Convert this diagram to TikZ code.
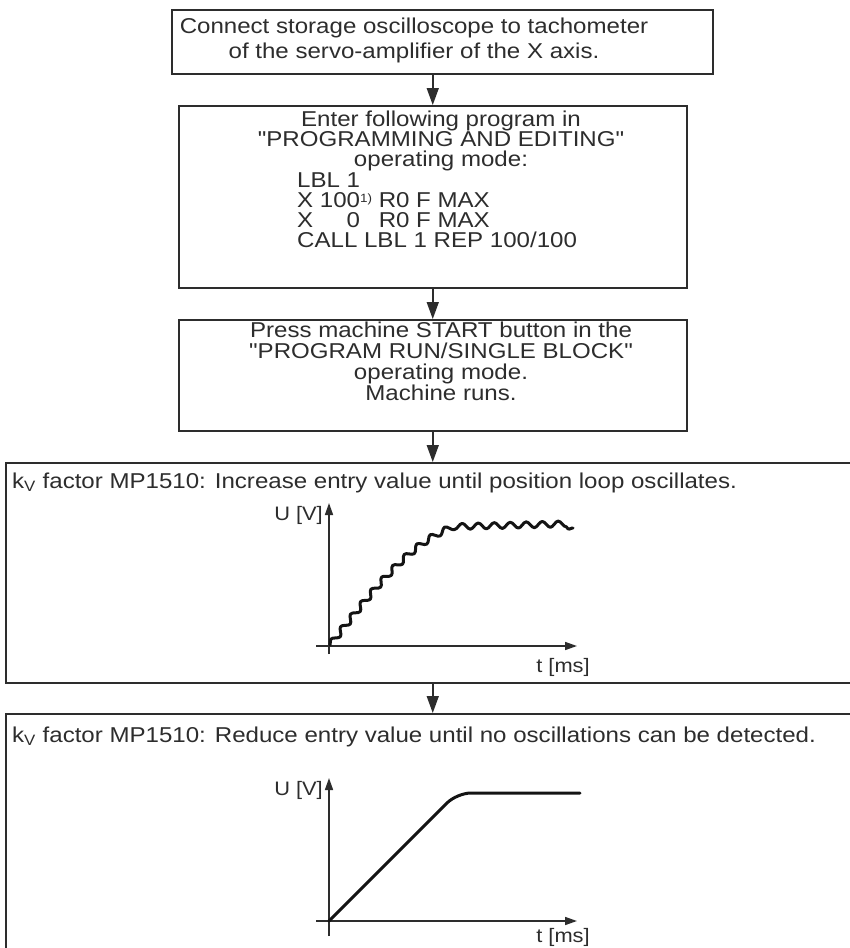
\documentclass[tikz,border=0pt]{standalone}
\usepackage{fontspec}
\setmainfont{Liberation Sans}[FakeStretch=1.12, Ligatures=TeXOff]
\usetikzlibrary{arrows.meta,decorations.pathmorphing}
\definecolor{ink}{RGB}{45,45,45}
\definecolor{curvecol}{RGB}{20,20,20}
\newcommand{\fnmark}{\raisebox{5pt}{\fontsize{12}{12}\selectfont 1)}}
\begin{document}
\begin{tikzpicture}[x=1pt,y=-1pt,
  box/.style={draw=ink, line width=1.5pt, inner sep=0pt, anchor=north west},
  txt/.style={inner sep=0pt, text=ink, font=\fontsize{21.5}{24}\selectfont},
  lbl/.style={inner sep=0pt, text=ink, font=\fontsize{19.5}{22}\selectfont},
  flow/.style={draw=ink, line width=1.5pt, -{Triangle[length=17pt,width=12pt]}},
  axis/.style={draw=ink, line width=1.6pt, -{Triangle[length=12pt,width=8pt]}},
  sig/.style={draw=curvecol, line width=3pt, line join=round, line cap=round},
]
\clip (0,0) rectangle (850,948);
\fill[white] (0,0) rectangle (850,948);

% boxes
\node[box, minimum width=541pt, minimum height=64pt]  (b1) at (171,9) {};
\node[box, minimum width=508pt, minimum height=182pt] (b2) at (178,105) {};
\node[box, minimum width=508pt, minimum height=111pt] (b3) at (178,319) {};
\node[box, minimum width=870pt, minimum height=220pt] (b4) at (5,462) {};
\node[box, minimum width=870pt, minimum height=260pt] (b5) at (5,713) {};

% box 1 text
\node[txt, anchor=base] (t1a) at (414,33) {Connect storage oscilloscope to tachometer};
\node[txt, anchor=base] (t1b) at (414,58) {of the servo-amplifier of the X axis.};

% box 2 text
\node[txt, anchor=base] (t2a) at (441,126) {Enter following program in};
\node[txt, anchor=base] (t2b) at (441,146) {"PROGRAMMING AND EDITING"};
\node[txt, anchor=base] (t2c) at (441,166) {operating mode:};
\node[txt, anchor=base west] (p1) at (297,187) {LBL 1};
\node[txt, anchor=base west] (p2) at (297,207) {X 100\fnmark{} R0 F MAX};
\node[txt, anchor=base west] (p3) at (297,227) {X \hphantom{10}0\hphantom{\fnmark} R0 F MAX};
\node[txt, anchor=base west] (p4) at (297,247) {CALL LBL 1 REP 100/100};

% box 3 text
\node[txt, anchor=base] (t3a) at (441,337) {Press machine START button in the};
\node[txt, anchor=base] (t3b) at (441,358) {"PROGRAM RUN/SINGLE BLOCK"};
\node[txt, anchor=base] (t3c) at (441,379) {operating mode.};
\node[txt, anchor=base] (t3d) at (441,400) {Machine runs.};

% box 4 / 5 titles
\node[txt, anchor=base west] (t4) at (12,488) {k\textsubscript{V} factor MP1510: Increase entry value until position loop oscillates.};
\node[txt, anchor=base west] (t5) at (12,742) {k\textsubscript{V} factor MP1510: Reduce entry value until no oscillations can be detected.};

% flow arrows
\draw[flow] (b2.north |- b1.south) -- (b2.north);
\draw[flow] (b2.south) -- (b3.north);
\draw[flow] (b3.south) -- (b3.south |- b4.north);
\draw[flow] (b3.south |- b4.south) -- (b3.south |- b5.north);

% graph 1
\coordinate (o1) at (329,646);
\coordinate (y1b) at (329,654);
\coordinate (y1t) at (329,503);
\coordinate (x1l) at (316,646);
\coordinate (x1r) at (577,646);
\draw[axis] (y1b) -- (y1t);
\draw[axis] (x1l) -- (x1r);
\node[lbl, anchor=base east] (u1) at (323,520) {U [V]};
\node[lbl, anchor=base] (tm1) at (563,672) {t [ms]};
\draw[sig, decorate, decoration={snake, amplitude=3pt, segment length=16pt}]
  (330,645) .. controls (370,594) and (405,548) .. (448,531) -- (573,528);

% graph 2
\coordinate (o2) at (329,921);
\coordinate (y2b) at (329,936);
\coordinate (y2t) at (329,778);
\coordinate (x2l) at (316,921);
\coordinate (x2r) at (577,921);
\draw[axis] (y2b) -- (y2t);
\draw[axis] (x2l) -- (x2r);
\node[lbl, anchor=base east] (u2) at (323,795) {U [V]};
\node[lbl, anchor=base] (tm2) at (563,942) {t [ms]};
\draw[sig, rounded corners=14pt] (o2) -- (457,793) -- (580,793);
\end{tikzpicture}
\end{document}
